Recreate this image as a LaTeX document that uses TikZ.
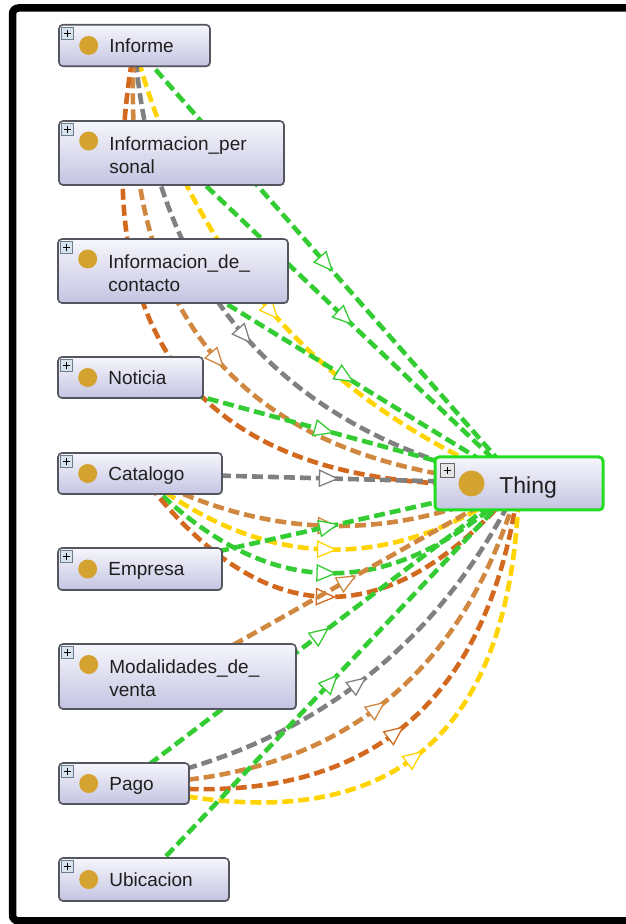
\documentclass[tikz,border=0pt]{standalone}
\usepackage{fontspec}
\setmainfont{Liberation Sans}
\usetikzlibrary{decorations.markings,shadows}
\pgfdeclarelayer{background}
\pgfsetlayers{background,main}

\definecolor{cgreen}{RGB}{51,204,51}
\definecolor{cyellow}{RGB}{255,212,0}
\definecolor{cgray}{RGB}{128,128,128}
\definecolor{cperu}{RGB}{208,135,64}
\definecolor{cchoc}{RGB}{210,105,30}
\definecolor{golden}{RGB}{212,162,46}
\definecolor{boxline}{RGB}{85,85,95}
\definecolor{boxtop}{RGB}{246,246,252}
\definecolor{boxbottom}{RGB}{196,196,226}
\definecolor{thingline}{RGB}{34,221,34}
\definecolor{plusfill}{RGB}{214,226,238}
\definecolor{plusline}{RGB}{110,125,140}

\tikzset{
  classbox/.style={rectangle, rounded corners=4pt, draw=boxline, line width=1.6pt,
    top color=boxtop, bottom color=boxbottom, inner sep=0pt,
    drop shadow={shadow xshift=0.8pt, shadow yshift=-1pt, opacity=0.3, fill=black}},
  thingbox/.style={classbox, draw=thingline, line width=3pt},
  plusicon/.style={rectangle, minimum size=12pt, inner sep=0pt, draw=plusline,
    line width=0.6pt, fill=plusfill,
    path picture={\draw[black, line width=1pt]
      ([xshift=-3.5pt]path picture bounding box.center) -- ([xshift=3.5pt]path picture bounding box.center)
      ([yshift=-3.5pt]path picture bounding box.center) -- ([yshift=3.5pt]path picture bounding box.center);}},
  golddot/.style={circle, minimum size=19pt, inner sep=0pt, fill=golden},
  classlabel/.style={inner sep=0pt, text=black!88, font=\fontsize{19}{23}\selectfont},
  rel/.style={draw=#1, line width=4.6pt, dash pattern=on 11pt off 5pt,
    postaction={decorate, decoration={markings, mark=at position 0.5 with
      {\draw[solid, line width=1.3pt, draw=#1, fill=white] (-10,-8) -- (8,0) -- (-10,8) -- cycle;}}}},
  % quadratic arcs whose apex lies 1/8, 3/16, 1/4 and 5/16 of the chord away
  arcA/.style={bend right=26.57, looseness=0.952},
  arcB/.style={bend right=36.87, looseness=1.064},
  arcC/.style={bend right=45, looseness=1.204},
  arcD/.style={bend right=51.34, looseness=1.363},
}

% class box with a one-line name
\newcommand{\classone}[5]{%
  \node[classbox, minimum width=#3pt, minimum height=#4pt] (#1) at (#2) {};
  \node[plusicon] (#1-plus) at ([xshift=9.5pt, yshift=-9.5pt]#1.north west) {};
  \node[golddot] (#1-dot) at ([xshift=30.5pt]#1.west) {};
  \node[classlabel, anchor=base west] (#1-text) at ([xshift=51pt, yshift=-7pt]#1.west) {#5};
}
% class box with a name broken over two lines
\newcommand{\classtwo}[6]{%
  \node[classbox, minimum width=#3pt, minimum height=#4pt] (#1) at (#2) {};
  \node[plusicon] (#1-plus) at ([xshift=9.5pt, yshift=-9.5pt]#1.north west) {};
  \node[golddot] (#1-dot) at ([xshift=30.5pt, yshift=12pt]#1.west) {};
  \node[classlabel, anchor=base west] (#1-text) at ([xshift=51pt, yshift=2.5pt]#1.west) {#5};
  \node[classlabel, anchor=base west] (#1-text2) at ([xshift=51pt, yshift=-20.5pt]#1.west) {#6};
}

\begin{document}
\begin{tikzpicture}[x=1pt, y=1pt]
\useasboundingbox (0,0) rectangle (626,924);

% outer frame, open on the right
\draw[line width=7.5pt, rounded corners=6pt] (626,916) -- (12.5,916) -- (12.5,3) -- (626,3);

% classes
\classone{informe}{134.5,878.5}{151}{41.5}{Informe}
\classtwo{infoper}{171.5,771}{225}{64}{Informacion\_per}{sonal}
\classtwo{infocon}{173,653}{230}{64}{Informacion\_de\_}{contacto}
\classone{noticia}{130.5,546.5}{145}{41}{Noticia}
\classone{catalogo}{140,450.5}{164}{41}{Catalogo}
\classone{empresa}{140,355}{164}{42}{Empresa}
\classtwo{modal}{177.5,247.5}{237}{65}{Modalidades\_de\_}{venta}
\classone{pago}{124,140.5}{130}{41}{Pago}
\classone{ubicacion}{144,44.5}{170}{43}{Ubicacion}

% root class
\node[thingbox, minimum width=168pt, minimum height=53pt] (thing) at (519,440.5) {};
\node[plusicon, minimum size=14pt, fill=black!10, draw=black!60] (thing-plus) at ([xshift=14pt, yshift=-15pt]thing.north west) {};
\node[golddot, minimum size=26pt] (thing-dot) at ([xshift=38pt]thing.west) {};
\node[classlabel, font=\fontsize{23}{27}\selectfont, anchor=base west] (thing-text) at ([xshift=65.7pt, yshift=-10.5pt]thing.west) {Thing};

% relations, drawn centre to centre underneath the boxes
\begin{pgfonlayer}{background}
  \draw[rel=cgreen]  (informe.center) -- (thing.center);
  \draw[rel=cyellow] (informe.center) to[arcA] (thing.center);
  \draw[rel=cgray]   (informe.center) to[arcB] (thing.center);
  \draw[rel=cperu]   (informe.center) to[arcC] (thing.center);
  \draw[rel=cchoc]   (informe.center) to[arcD] (thing.center);

  \draw[rel=cgreen]  (infoper.center) -- (thing.center);
  \draw[rel=cgreen]  (infocon.center) -- (thing.center);
  \draw[rel=cgreen]  (noticia.center) -- (thing.center);

  \draw[rel=cgray]   (catalogo.center) -- (thing.center);
  \draw[rel=cperu]   (catalogo.center) to[arcA] (thing.center);
  \draw[rel=cyellow] (catalogo.center) to[arcB] (thing.center);
  \draw[rel=cgreen]  (catalogo.center) to[arcC] (thing.center);
  \draw[rel=cchoc]   (catalogo.center) to[arcD] (thing.center);

  \draw[rel=cgreen]  (empresa.center) -- (thing.center);
  \draw[rel=cperu]   (modal.center) -- (thing.center);

  \draw[rel=cgreen]  (pago.center) -- (thing.center);
  \draw[rel=cgray]   (pago.center) to[arcA] (thing.center);
  \draw[rel=cperu]   (pago.center) to[arcB] (thing.center);
  \draw[rel=cchoc]   (pago.center) to[arcC] (thing.center);
  \draw[rel=cyellow] (pago.center) to[arcD] (thing.center);

  \draw[rel=cgreen]  (ubicacion.center) -- (thing.center);
\end{pgfonlayer}
\end{tikzpicture}
\end{document}
